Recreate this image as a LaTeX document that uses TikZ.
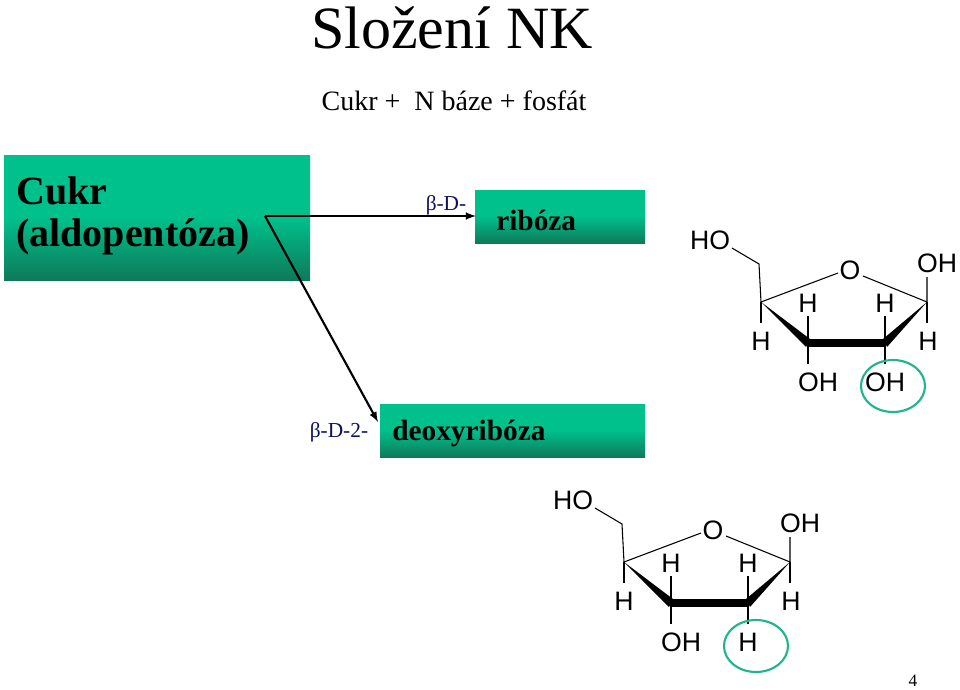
\documentclass[tikz,border=0pt]{standalone}
\usepackage{fontspec}
\setmainfont{Liberation Serif}
\newfontfamily\arialf{Liberation Sans}
\begin{document}
\begin{tikzpicture}[x=0.75pt,y=-0.75pt,
  gbox/.style={draw=none,top color=green1,bottom color=green2,middle color=green1},
  chem/.style={font=\arialf\fontsize{20}{20}\selectfont,inner sep=0pt},
  blab/.style={font=\fontsize{16}{16}\selectfont,text=darkblue,inner sep=0pt},
  arr/.style={-latex,line width=1.6pt},
  circ/.style={draw=teal1,line width=1.6pt}]
\definecolor{green1}{HTML}{00C08C}
\definecolor{green2}{HTML}{0E7A5A}
\definecolor{darkblue}{HTML}{101060}
\definecolor{teal1}{HTML}{20B58E}
\useasboundingbox (0,0) rectangle (960,689);
\node[font=\fontsize{45}{45}\selectfont,inner sep=0pt] (title) at (452,28) {Složení NK};
\node[font=\fontsize{21}{21}\selectfont,inner sep=0pt] (sub) at (454,101) {Cukr +\ \ N báze + fosfát};
\shade[top color=green1,bottom color=green2,middle color=green1] (4,155) rectangle (310,280);
\node[anchor=west,font=\bfseries\fontsize{30}{32}\selectfont,align=left,inner sep=0pt] (cukr) at (16,216) {Cukr\\(aldopentóza)};
\shade[top color=green1,bottom color=green2,middle color=green1] (475,190) rectangle (645,243);
\node[anchor=west,font=\bfseries\fontsize{22}{22}\selectfont,inner sep=0pt] (rib) at (496,220) {ribóza};
\shade[top color=green1,bottom color=green2,middle color=green1] (380,404) rectangle (645,457);
\node[anchor=west,font=\bfseries\fontsize{22}{22}\selectfont,inner sep=0pt] (deo) at (392,433) {deoxyribóza};
\node[blab] (b1) at (446,205) {β-D-};
\node[blab] (b2) at (339,432) {β-D-2-};
\coordinate (start) at (265,216);
\coordinate (e1) at (476,216);
\coordinate (e2) at (378,422);
\draw[arr] (start) -- (e1);
\draw[arr] (start) -- (e2);
\foreach \dx/\dy/\low in {0/0/OH,-137/260/H}{
\begin{scope}[shift={(\dx,\dy)}]
\node[chem] (ho) at (710,240) {HO};
\node[chem] (o) at (850,270) {O};
\node[chem] (oh1) at (937,263) {OH};
\node[chem] (h4) at (761,341) {H};
\node[chem] (h3) at (808,303) {H};
\node[chem] (h2) at (885,303) {H};
\node[chem] (h1) at (928,341) {H};
\node[chem] (oh3) at (818,382) {OH};
\node[chem] (low) at (885,382) {\low};
\coordinate (c4) at (761,302);
\coordinate (c3) at (808,343);
\coordinate (c2) at (885,343);
\coordinate (c1) at (927,302);
\draw[line width=0.8pt] (732,248) -- (759,264) -- (c4) -- (838,273);
\draw[line width=0.8pt] (863,276) -- (c1) -- (927,277);
\draw[line width=0.8pt] (c4) -- (761,323);
\draw[line width=0.8pt] (c1) -- (927,323);
\draw[line width=0.8pt] (808,316) -- (c3) -- (808,364);
\draw[line width=0.8pt] (885,316) -- (c2) -- (885,364);
\fill (c4) -- (810,339) -- (806,347) -- cycle;
\fill (c1) -- (883,339) -- (887,347) -- cycle;
\draw[line width=6pt] (c3) -- (c2);
\draw[circ] (893,386) ellipse (32 and 26);
\end{scope}}
\node[font=\fontsize{13}{13}\selectfont,inner sep=0pt] (pg) at (913,681) {4};
\end{tikzpicture}
\end{document}
